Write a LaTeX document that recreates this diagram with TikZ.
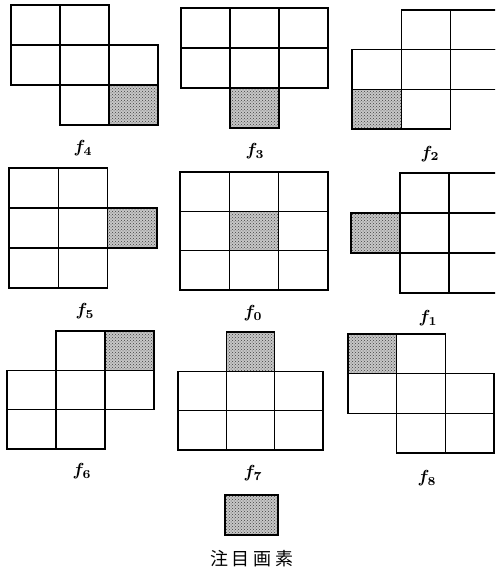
\documentclass[tikz,border=0pt]{standalone}
\usepackage{graphicx}
\usepackage{fontspec}
\newfontfamily\cjk{Noto Sans CJK JP}
\usetikzlibrary{patterns}
\tikzset{
  cellline/.style={draw=black, line width=1.25pt},
  shadecell/.style={fill=black!22, postaction={pattern=crosshatch dots, pattern color=black!75}},
  flabel/.style={inner sep=0pt},
}
\newcommand\fl[1]{\scalebox{1.75}{\boldmath$f_{#1}$}}
\newcommand\figgrid[6]{% x0, y0, w, h, cells, shaded cell
  \begin{scope}[shift={(#1,#2)}]
    \foreach \c/\r in {#6} \fill[shadecell] (\c*#3,\r*#4) rectangle ++(#3,#4);
    \foreach \c/\r in {#5} \draw[cellline] (\c*#3,\r*#4) rectangle ++(#3,#4);
  \end{scope}}
\begin{document}
\begin{tikzpicture}[x=1pt,y=-1pt]
\useasboundingbox (0,0) rectangle (495,567);
\clip (0,0) rectangle (495,567);
% f4
\figgrid{11}{5}{49}{40}{0/0,1/0,0/1,1/1,2/1,1/2,2/2}{2/2}
\node[flabel] (l4) at (83,148) {\fl{4}};
% f3
\figgrid{181}{8}{49}{40}{0/0,1/0,2/0,0/1,1/1,2/1,1/2}{1/2}
\node[flabel] (l3) at (255,151) {\fl{3}};
% f2
\figgrid{352}{10}{49.3}{39.7}{1/0,2/0,0/1,1/1,2/1,0/2,1/2}{0/2}
\node[flabel] (l2) at (430,154) {\fl{2}};
% f5
\figgrid{9}{168}{49.3}{40}{0/0,1/0,0/1,1/1,2/1,0/2,1/2}{2/1}
\node[flabel] (l5) at (85,311) {\fl{5}};
% f0
\figgrid{180}{172}{49.3}{39.3}{0/0,1/0,2/0,0/1,1/1,2/1,0/2,1/2,2/2}{1/1}
\node[flabel] (l0) at (253,313) {\fl{0}};
% f1
\figgrid{351}{173}{49}{40}{1/0,2/0,0/1,1/1,2/1,1/2,2/2}{0/1}
\node[flabel] (l1) at (428,318) {\fl{1}};
% f6
\figgrid{7}{331}{49}{39.3}{1/0,2/0,0/1,1/1,2/1,0/2,1/2}{2/0}
\node[flabel] (l6) at (82,471) {\fl{6}};
% f7
\figgrid{178}{332}{48.3}{39.3}{1/0,0/1,1/1,2/1,0/2,1/2,2/2}{1/0}
\node[flabel] (l7) at (253,473) {\fl{7}};
% f8
\figgrid{348}{334}{48.7}{39.7}{0/0,1/0,0/1,1/1,2/1,1/2,2/2}{0/0}
\node[flabel] (l8) at (427,478) {\fl{8}};
% legend
\fill[shadecell] (225,495) rectangle (278,535);
\draw[cellline] (225,495) rectangle (278,535);
\node[font=\cjk\fontsize{18}{20}\selectfont, inner sep=0pt] (key) at (252,559) {注\hspace{4pt}目\hspace{4pt}画\hspace{4pt}素};
\end{tikzpicture}
\end{document}
